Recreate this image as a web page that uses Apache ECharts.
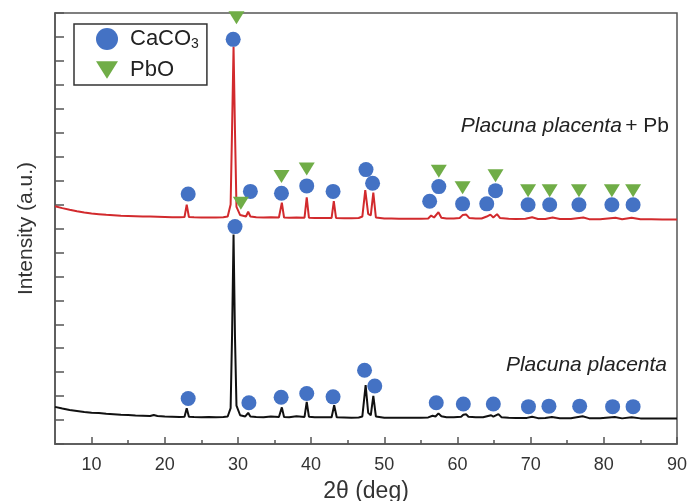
<!DOCTYPE html>
<html>
<head>
<meta charset="utf-8">
<script src="https://cdn.jsdelivr.net/npm/echarts@6/dist/echarts.min.js"></script>
<style>
html,body{margin:0;padding:0;background:#fff;}
#chart{width:688px;height:501px;}
</style>
</head>
<body>
<div id="chart"></div>
<script>
// ---- Data (2θ in degrees, intensity in arbitrary offset units) ----
var xTickLabels = [10, 20, 30, 40, 50, 60, 70, 80, 90];
var xMinorTicks = [15, 25, 35, 45, 55, 65, 75, 85];

var traceNames = ['Placuna placenta', 'Placuna placenta + Pb'];

// Placuna placenta (black trace)
var blackTrace = [
  [5,1.55],[6,1.48],[7,1.42],[8,1.38],[9,1.34],[10,1.31],[11,1.29],[12,1.26],[13,1.24],[14,1.22],
  [15,1.21],[16,1.19],[17,1.18],[18,1.17],[18.5,1.21],[19,1.17],[20,1.15],[21,1.14],[22,1.13],
  [22.7,1.14],[23.0,1.49],[23.3,1.14],[24,1.13],[25,1.12],[26,1.13],[27,1.12],[28,1.13],[28.6,1.15],
  [29.0,1.5],[29.2,4.6],[29.4,8.75],[29.6,4.4],[29.8,1.6],[30.3,1.2],[31.0,1.15],[31.4,1.3],[31.7,1.15],
  [32.5,1.13],[33.5,1.12],[34.5,1.15],[35.6,1.13],[36.0,1.53],[36.3,1.13],[37,1.12],[38,1.16],
  [39.1,1.13],[39.4,1.76],[39.7,1.14],[40.5,1.12],[41.5,1.12],[42.8,1.12],[43.15,1.62],[43.5,1.12],
  [44.5,1.11],[45.5,1.1],[46.5,1.11],[47.0,1.15],[47.45,2.46],[47.8,1.3],[48.15,1.2],[48.5,2.01],
  [48.85,1.15],[50,1.1],[51,1.1],[52,1.1],[53,1.1],[54,1.1],[55,1.1],[56,1.11],[56.6,1.18],[57.0,1.15],
  [57.4,1.28],[57.8,1.16],[58.5,1.12],[59.5,1.12],[60.5,1.14],[60.8,1.22],[61.2,1.24],[61.5,1.14],
  [62.5,1.12],[63.5,1.12],[64.6,1.2],[64.9,1.14],[65.6,1.25],[66,1.12],[67,1.1],[68,1.09],[69.5,1.09],
  [70.2,1.14],[71,1.08],[72,1.09],[72.9,1.13],[74,1.08],[75.5,1.08],[77.1,1.16],[78,1.08],[79.5,1.08],
  [81.5,1.13],[82.5,1.07],[83.8,1.12],[85,1.07],[86.5,1.07],[88,1.06],[90,1.06]
];

// Placuna placenta + Pb (red trace)
var redTrace = [
  [5,9.93],[6,9.85],[7,9.78],[8,9.72],[9,9.67],[10,9.63],[11,9.6],[12,9.57],[13,9.55],[14,9.53],
  [15,9.52],[16,9.51],[17,9.5],[18,9.5],[19,9.49],[20,9.48],[21,9.47],[22,9.47],[22.7,9.48],
  [23.0,10.0],[23.3,9.48],[24,9.47],[25,9.46],[26,9.46],[27,9.46],[28,9.47],[28.6,9.5],[29.0,10.0],
  [29.2,13.2],[29.4,16.6],[29.6,13.0],[29.8,9.9],[30.3,9.56],[31.1,9.5],[31.4,9.7],[31.7,9.5],
  [32.5,9.47],[33.5,9.46],[34.5,9.47],[35.6,9.46],[36.0,10.08],[36.3,9.46],[37,9.45],[38,9.46],
  [39.1,9.45],[39.4,10.3],[39.7,9.45],[40.5,9.44],[41.5,9.44],[42.8,9.44],[43.1,10.14],[43.4,9.44],
  [44.5,9.43],[45.5,9.43],[46.5,9.44],[47.0,9.5],[47.4,10.6],[47.8,9.6],[48.15,9.55],[48.5,10.5],
  [48.85,9.46],[50,9.42],[51,9.42],[52,9.41],[53,9.41],[54,9.41],[55,9.41],[56,9.42],[56.4,9.54],
  [56.8,9.46],[57.4,9.68],[57.8,9.45],[58.5,9.42],[59.5,9.42],[60.3,9.44],[60.7,9.56],[61.2,9.58],
  [61.6,9.44],[62.5,9.42],[63.3,9.42],[64.0,9.5],[64.5,9.58],[64.9,9.46],[65.4,9.6],[65.8,9.44],
  [67,9.41],[68,9.4],[69.3,9.41],[70.2,9.47],[71,9.4],[72,9.4],[73,9.46],[74,9.4],[75.5,9.4],
  [77.2,9.46],[78,9.39],[79.5,9.39],[81.6,9.45],[82.5,9.39],[83.8,9.45],[85,9.39],[86.5,9.39],
  [88,9.38],[90,9.38]
];

// Phase markers
var caco3Markers = [
  // black trace
  [23.2,1.9],[29.6,9.08],[31.5,1.72],[35.9,1.95],[39.4,2.11],[43.0,1.97],[47.3,3.08],[48.7,2.42],
  [57.1,1.72],[60.8,1.67],[64.9,1.67],[69.7,1.56],[72.5,1.58],[76.7,1.58],[81.2,1.56],[84.0,1.56],
  // red trace
  [23.2,10.44],[29.35,16.9],[31.7,10.55],[35.95,10.47],[39.4,10.78],[43.0,10.55],[47.5,11.46],[48.4,10.89],
  [56.2,10.14],[57.45,10.75],[60.7,10.03],[64.0,10.03],[65.2,10.58],[69.65,9.99],[72.6,9.99],
  [76.6,9.99],[81.1,9.99],[84.0,9.99]
];
var pboMarkers = [
  [29.8,17.8],[30.4,10.05],[35.95,11.17],[39.4,11.49],[57.45,11.39],[60.7,10.7],[65.2,11.2],
  [69.65,10.58],[72.6,10.58],[76.6,10.58],[81.1,10.58],[84.0,10.58]
];

var triPath = 'path://M0,0 L10,0 L5,8 Z';
var fontFam = '"Liberation Sans", Arial, sans-serif';

var chart = echarts.init(document.getElementById('chart'), null, {renderer: 'canvas'});
chart.setOption({
  animation: false,
  backgroundColor: '#fff',
  grid: {left: 55, right: 11, top: 13, bottom: 57, show: true, borderColor: '#555', borderWidth: 1.5,
         containLabel: false, outerBoundsMode: 'none'},
  legend: {
    orient: 'vertical', left: 74, top: 24,
    borderColor: '#333', borderWidth: 1.5, padding: [4, 8, 4, 22],
    itemGap: 8, itemWidth: 22, itemHeight: 22,
    data: [
      {name: 'CaCO3', icon: 'circle'},
      {name: 'PbO', icon: triPath}
    ],
    formatter: function (n) { return n === 'CaCO3' ? '{a|CaCO}{s|3}' : '{a|PbO}'; },
    textStyle: {
      fontFamily: fontFam, color: '#222',
      rich: {
        a: {fontSize: 22, fontFamily: fontFam, color: '#222', padding: [0, 0, 0, 7]},
        s: {fontSize: 14, fontFamily: fontFam, color: '#222', padding: [10, 0, 0, 0]}
      }
    }
  },
  xAxis: [{
    type: 'value', min: 5, max: 90,
    name: '2θ (deg)', nameLocation: 'middle', nameGap: 36,
    nameTextStyle: {fontSize: 23, fontFamily: fontFam, color: '#333'},
    axisLine: {show: true, onZero: false, lineStyle: {color: '#555', width: 1.5}},
    axisTick: {show: true, inside: true, length: 7, customValues: xTickLabels, lineStyle: {color: '#555', width: 1.5}},
    axisLabel: {show: true, customValues: xTickLabels, fontSize: 18, fontFamily: fontFam, color: '#333', margin: 12},
    splitLine: {show: false}
  }, {
    type: 'value', min: 5, max: 90, position: 'bottom',
    axisLine: {show: false},
    axisTick: {show: true, inside: true, length: 4, customValues: xMinorTicks, lineStyle: {color: '#555', width: 1.5}},
    axisLabel: {show: false},
    splitLine: {show: false}
  }],
  yAxis: {
    type: 'value', min: 0, max: 18, interval: 1,
    name: 'Intensity (a.u.)', nameLocation: 'middle', nameGap: 18,
    nameTextStyle: {fontSize: 21, fontFamily: fontFam, color: '#333'},
    axisLine: {show: true, lineStyle: {color: '#555', width: 1.5}},
    axisTick: {show: true, inside: true, length: 9, lineStyle: {color: '#555', width: 1.5}},
    axisLabel: {show: false},
    splitLine: {show: false}
  },
  series: [
    {name: traceNames[0], type: 'line', data: blackTrace, showSymbol: false, symbol: 'none',
     lineStyle: {color: '#111', width: 2}, z: 2},
    {name: traceNames[1], type: 'line', data: redTrace, showSymbol: false, symbol: 'none',
     lineStyle: {color: '#d22a2d', width: 2}, z: 2},
    {name: 'CaCO3', type: 'scatter', data: caco3Markers, symbol: 'circle', symbolSize: 15,
     itemStyle: {color: '#4472c4', opacity: 1}, z: 5},
    {name: 'PbO', type: 'scatter', data: pboMarkers, symbol: triPath, symbolSize: [16, 13],
     itemStyle: {color: '#70ad47', opacity: 1}, z: 5}
  ],
  graphic: [
    {type: 'text', right: 19, top: 116, z: 10,
     style: {text: '{i|Placuna placenta} {n|+ Pb}', fontFamily: fontFam,
       rich: {i: {fontSize: 21, fontStyle: 'italic', fontFamily: fontFam, fill: '#222'},
              n: {fontSize: 21, fontFamily: fontFam, fill: '#222'}}}},
    {type: 'text', right: 21, top: 355, z: 10,
     style: {text: traceNames[0], fontSize: 21, fontStyle: 'italic', fontFamily: fontFam, fill: '#222'}}
  ]
});
</script>
</body>
</html>
